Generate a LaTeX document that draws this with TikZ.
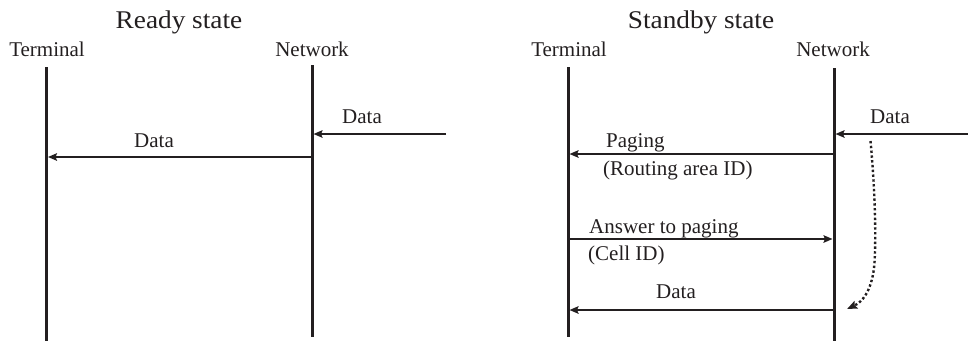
\documentclass[tikz,border=0pt]{standalone}
\usepackage{fontspec}
\setmainfont{Liberation Serif}
\newfontfamily\ttlfont[FakeStretch=1.07]{Liberation Serif}
\usetikzlibrary{arrows.meta}
\definecolor{ink}{HTML}{231F20}
\tikzset{
  lifeline/.style={draw=ink, line width=3pt},
  msg/.style={draw=ink, line width=2.1pt, -{Stealth[length=9pt,width=7.5pt,inset=1.5pt]}},
  lbl/.style={inner sep=0pt, anchor=base, font=\fontsize{21}{24}\selectfont, text=ink},
  lblw/.style={lbl, anchor=base west},
  ttl/.style={inner sep=0pt, anchor=base, font=\ttlfont\fontsize{25.5}{28}\selectfont, text=ink},
  dotarrow/.style={draw=ink, line width=2.4pt, dash pattern=on 2.4pt off 2.4pt, -{Stealth[length=10pt,width=8pt,inset=1.5pt]}}
}
\begin{document}
\begin{tikzpicture}[x=1pt,y=-1pt]
\useasboundingbox (0,0) rectangle (968,341);
% ---------- Ready state ----------
\node[ttl] (t1) at (179,28) {Ready state};
\node[lbl] (term1) at (47,56) {Terminal};
\node[lbl] (net1) at (312,56) {Network};
\coordinate (term1top) at (46.5,67);
\coordinate (term1bot) at (46.5,341);
\coordinate (net1top) at (312,65);
\coordinate (net1bot) at (312,337);
\draw[lifeline] (term1top) -- (term1bot);
\draw[lifeline] (net1top) -- (net1bot);
\coordinate (in1s) at (446,134);
\coordinate (in1e) at (313.5,134);
\draw[msg] (in1s) -- (in1e);
\node[lbl] (din1) at (362,123) {Data};
\coordinate (d1s) at (312,157);
\coordinate (d1e) at (48,157);
\draw[msg] (d1s) -- (d1e);
\node[lbl] (dd1) at (154,147) {Data};
% ---------- Standby state ----------
\node[ttl] (t2) at (701,28) {Standby state};
\node[lbl] (term2) at (569,56) {Terminal};
\node[lbl] (net2) at (833,56) {Network};
\coordinate (term2top) at (568,67);
\coordinate (term2bot) at (568,337);
\coordinate (net2top) at (834,68);
\coordinate (net2bot) at (834,341);
\draw[lifeline] (term2top) -- (term2bot);
\draw[lifeline] (net2top) -- (net2bot);
\coordinate (in2s) at (968,134);
\coordinate (in2e) at (835.5,134);
\draw[msg] (in2s) -- (in2e);
\node[lbl] (din2) at (890,123) {Data};
% Paging
\coordinate (ps) at (832.5,154);
\coordinate (pe) at (569.5,154);
\draw[msg] (ps) -- (pe);
\node[lblw] (pg) at (606,147) {Paging};
\node[lblw] (ra) at (603,175) {(Routing area ID)};
% Answer
\coordinate (as) at (569.5,239);
\coordinate (ae) at (832.5,239);
\draw[msg] (as) -- (ae);
\node[lblw] (ap) at (589,233) {Answer to paging};
\node[lblw] (ci) at (588,260) {(Cell ID)};
% Data
\coordinate (d2s) at (832.5,310);
\coordinate (d2e) at (569.5,310);
\draw[msg] (d2s) -- (d2e);
\node[lbl] (dd2) at (676,298) {Data};
% dotted curve
\coordinate (cs) at (870.5,141);
\coordinate (ce) at (847,309);
\draw[dotarrow] (cs) .. controls (876,200) and (876,250) .. (874,268) .. controls (871,292) and (862,302) .. (ce);
\end{tikzpicture}
\end{document}
